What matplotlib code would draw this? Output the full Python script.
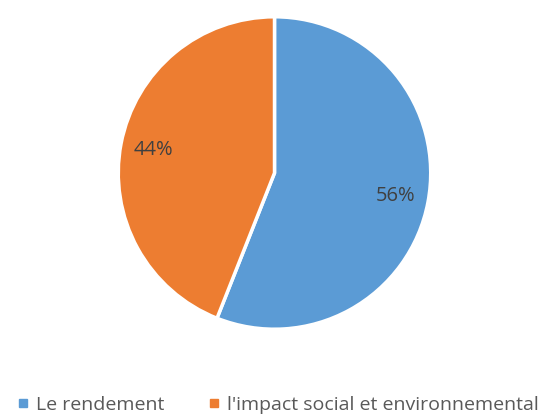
import matplotlib
matplotlib.use("Agg")
import matplotlib.pyplot as plt
from matplotlib.lines import Line2D

labels = ["Le rendement", "l'impact social et environnemental"]
values = [56, 44]
colors = ["#5B9BD5", "#ED7D31"]

plt.rcParams['font.family'] = ['Open Sans', 'DejaVu Sans']

fig = plt.figure(figsize=(5.47, 4.15), dpi=100)
W, H = 547, 415
cx, cy, r = 274.5, 173, 157
ax = fig.add_axes([(cx - r) / W, (H - cy - r) / H, 2 * r / W, 2 * r / H])
wedges, texts, autotexts = ax.pie(values, colors=colors, startangle=90, counterclock=False,
                                  autopct='%1.0f%%', pctdistance=0.79, radius=1,
                                  wedgeprops=dict(edgecolor='white', linewidth=2.5),
                                  textprops=dict(color='#404040', fontsize=14.5))
ax.set_xlim(-1.005, 1.005)
ax.set_ylim(-1.005, 1.005)
ax.set_aspect('equal')
ax.axis('off')

handles = [Line2D([0], [0], marker='s', linestyle='none', markersize=5.5,
                  markerfacecolor=c, markeredgecolor=c) for c in colors]
fig.legend(handles, labels, loc='center', bbox_to_anchor=(277 / W, (H - 405) / H), ncol=2,
           frameon=False, fontsize=14, labelcolor='#595959', handlelength=0.8,
           handletextpad=0.25, columnspacing=2.2, borderaxespad=0)

fig.savefig("out.png", dpi=100)
